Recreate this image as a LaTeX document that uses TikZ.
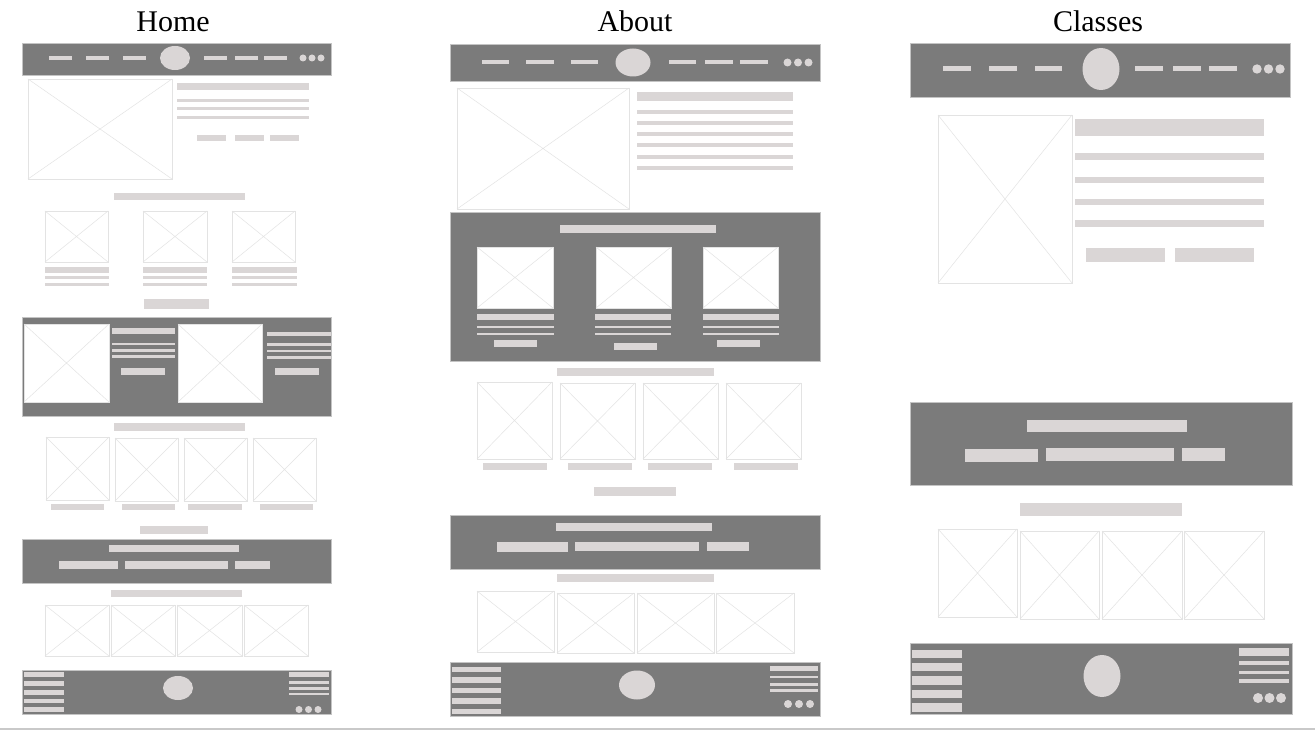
\documentclass[tikz,border=0pt]{standalone}
\usepackage{fontspec}
\setmainfont{Liberation Serif}
\definecolor{dk}{HTML}{7B7B7B}
\definecolor{lt}{HTML}{DAD6D6}
\definecolor{ln}{HTML}{E3E3E3}
\definecolor{edge}{HTML}{C4C4C4}
\definecolor{rule}{HTML}{C9C9C9}
\tikzset{
  band/.style={fill=dk, draw=edge, line width=0.8pt},
  bar/.style={fill=lt},
  imgbox/.style={fill=white, draw=ln, line width=0.9pt},
  imgx/.style={draw=ln, line width=0.5pt},
  pagetitle/.style={anchor=base, inner sep=0pt, font=\fontsize{30}{32}\selectfont}
}
\newcommand{\wfimg}[4]{\draw[imgbox] (#1,#2) rectangle (#3,#4); \draw[imgx] (#1,#2) -- (#3,#4) (#1,#4) -- (#3,#2);}
\newcommand{\wfbar}[4]{\fill[bar] (#1,#2) rectangle (#3,#4);}
\newcommand{\wfband}[4]{\draw[band] (#1,#2) rectangle (#3,#4);}
\newcommand{\wfoval}[4]{\fill[bar] (#1,#2) ellipse [x radius=#3pt, y radius=#4pt];}
\newcommand{\wfdots}[5]{\foreach \xx in {#1,#2,#3} {\fill[bar] (\xx,#4) circle [radius=#5pt];}}
\begin{document}
\begin{tikzpicture}[x=1pt,y=-1pt]
\useasboundingbox (0,0) rectangle (1315,730);
\fill[white] (0,0) rectangle (1315,730);
\fill[rule] (0,727.5) rectangle (1315,730);

% ---------------- HOME ----------------
\node[pagetitle] (thome) at (173,32) {Home};
\wfband{22}{43}{331}{75}
\foreach \a/\b in {49/72,86/109,123/146,204/227,235/258,264/287} {\wfbar{\a}{56.5}{\b}{60}}
\wfoval{175}{58}{15}{12}
\wfdots{303}{312}{321}{58}{3.5}
\wfimg{28}{79}{172}{179}
\wfbar{177}{83}{309}{90}
\wfbar{177}{99}{309}{102.5}
\wfbar{177}{107}{309}{110.5}
\wfbar{177}{116}{309}{119.5}
\wfbar{197}{135}{226}{141}
\wfbar{235}{135}{264}{141}
\wfbar{270}{135}{299}{141}
\wfbar{114}{193}{245}{200}
\wfimg{45}{211}{108}{262}
\wfimg{143}{211}{207}{262}
\wfimg{232}{211}{295}{262}
\foreach \a/\b in {45/109,143/207,232/297} {
  \wfbar{\a}{267}{\b}{273}
  \wfbar{\a}{276}{\b}{279}
  \wfbar{\a}{282.5}{\b}{285.5}
}
\wfbar{144}{299}{209}{309}
\wfband{22}{317}{331}{416}
\wfimg{24}{324}{109}{402}
\wfimg{178}{324}{262}{402}
\wfbar{112}{328}{175}{333.5}
\wfbar{112}{342.5}{175}{345}
\wfbar{112}{349}{175}{351.5}
\wfbar{112}{355}{175}{357.5}
\wfbar{121}{368}{165}{375}
\wfbar{267}{331.5}{331}{336}
\wfbar{267}{343}{331}{345.5}
\wfbar{267}{349.5}{331}{352}
\wfbar{267}{356}{331}{358.5}
\wfbar{275}{368}{319}{375}
\wfbar{114}{423}{245}{431}
\wfimg{46}{437}{109}{500}
\wfimg{115}{438}{178}{501}
\wfimg{184}{438}{247}{501}
\wfimg{253}{438}{316}{501}
\foreach \a/\b in {51/104,122/175,188/242,260/313} {\wfbar{\a}{504}{\b}{509.5}}
\wfbar{140}{526}{208}{534}
\wfband{22}{539}{331}{583}
\wfbar{109}{545}{239}{552}
\wfbar{59}{561}{118}{569}
\wfbar{125}{561}{228}{569}
\wfbar{235}{561}{270}{569}
\wfbar{111}{590}{242}{597}
\wfimg{45}{605}{109}{656}
\wfimg{111}{605}{175}{656}
\wfimg{177}{605}{242}{656}
\wfimg{244}{605}{308}{656}
\wfband{22}{670}{331}{714}
\foreach \a/\b in {672/677,681/686,690/694.5,698.5/703,707/712} {\wfbar{24}{\a}{64}{\b}}
\wfoval{178}{688}{15}{12}
\wfbar{289}{672}{329}{677}
\wfbar{289}{681}{329}{683.5}
\wfbar{289}{687}{329}{689.5}
\wfbar{289}{692.5}{329}{695}
\wfdots{299}{308.5}{318}{709.5}{3.5}

% ---------------- ABOUT ----------------
\node[pagetitle] (tabout) at (635,32) {About};
\wfband{450}{44}{820}{81}
\foreach \a/\b in {482/509,526/554,571/598,669/696,705/733,740/768} {\wfbar{\a}{60.5}{\b}{64}}
\wfoval{633}{62.5}{17.5}{14}
\wfdots{787.5}{798}{808.5}{62.5}{4}
\wfimg{457}{88}{629}{209}
\wfbar{637}{92}{793}{101}
\foreach \a/\b in {110/114,121/125,132.5/136.5,143.5/147.5,155/159,166/170.5} {\wfbar{637}{\a}{793}{\b}}
\wfband{450}{212}{820}{361}
\wfbar{560}{225}{716}{233.5}
\wfimg{477}{247}{553}{308}
\wfimg{596}{247}{671}{308}
\wfimg{703}{247}{778}{308}
\foreach \a/\b in {477/554,595/671,703/779} {
  \wfbar{\a}{314}{\b}{320}
  \wfbar{\a}{325.5}{\b}{327.5}
  \wfbar{\a}{332.5}{\b}{334.5}
}
\wfbar{494}{340}{537}{347}
\wfbar{614}{343}{657}{349.5}
\wfbar{717}{340}{760}{347}
\wfbar{557}{367.5}{714}{376}
\wfimg{477}{382}{552}{459}
\wfimg{560}{383}{635}{459}
\wfimg{643}{383}{718}{459}
\wfimg{726}{383}{801}{459}
\foreach \a/\b in {483/547,568/632,648/712,734/798} {\wfbar{\a}{462.5}{\b}{469.5}}
\wfbar{594}{487}{676}{496}
\wfband{450}{515}{820}{569}
\wfbar{556}{523}{712}{531}
\wfbar{497}{542}{568}{552}
\wfbar{575}{541.5}{699}{551}
\wfbar{707}{541.5}{749}{551}
\wfbar{557}{573.5}{714}{582}
\wfimg{477}{591}{554}{652}
\wfimg{557}{593}{634}{653}
\wfimg{637}{593}{714}{653}
\wfimg{716}{593}{794}{653}
\wfband{450}{662}{820}{716}
\foreach \a/\b in {666.5/672,677/682.5,687.5/693,698/703.5,708.5/714} {\wfbar{452}{\a}{501}{\b}}
\wfoval{637}{685}{18}{14.5}
\wfbar{770}{665.5}{818}{671}
\wfbar{770}{675.5}{818}{678}
\wfbar{770}{683}{818}{686}
\wfbar{770}{689}{818}{692}
\wfdots{788}{799}{810}{704}{4}

% ---------------- CLASSES ----------------
\node[pagetitle] (tclasses) at (1098,32) {Classes};
\wfband{910}{43}{1290}{97}
\foreach \a/\b in {943/971,989/1017,1035/1062,1135/1163,1173/1201,1209/1237} {\wfbar{\a}{66.5}{\b}{71}}
\wfoval{1101}{69}{18.5}{21}
\wfdots{1257}{1268.5}{1280}{69}{4.7}
\wfimg{938}{115}{1072}{283}
\wfbar{1075}{119}{1264}{136}
\wfbar{1075}{153.5}{1264}{160.5}
\wfbar{1075}{177.5}{1264}{183.5}
\wfbar{1075}{199}{1264}{205.5}
\wfbar{1075}{220}{1264}{227}
\wfbar{1086}{248}{1165}{262}
\wfbar{1175}{248}{1254}{262}
\wfband{910}{402}{1292}{485}
\wfbar{1027}{420}{1187}{432}
\wfbar{965}{449}{1038}{462}
\wfbar{1046}{448}{1174}{461}
\wfbar{1182}{448}{1225}{461}
\wfbar{1020}{503}{1182}{516}
\wfimg{938}{529}{1017}{617}
\wfimg{1020}{531}{1099}{619}
\wfimg{1102}{531}{1182}{619}
\wfimg{1184}{531}{1264}{619}
\wfband{910}{643}{1292}{714}
\foreach \a/\b in {649.5/658,663/671,676/684.5,690/698,703/711.5} {\wfbar{912}{\a}{962}{\b}}
\wfoval{1102}{676}{18.5}{21}
\wfbar{1239}{647.5}{1289}{656}
\wfbar{1239}{661}{1289}{665}
\wfbar{1239}{670.5}{1289}{674}
\wfbar{1239}{679}{1289}{683}
\wfdots{1258}{1269.5}{1281}{698}{5}
\end{tikzpicture}
\end{document}
